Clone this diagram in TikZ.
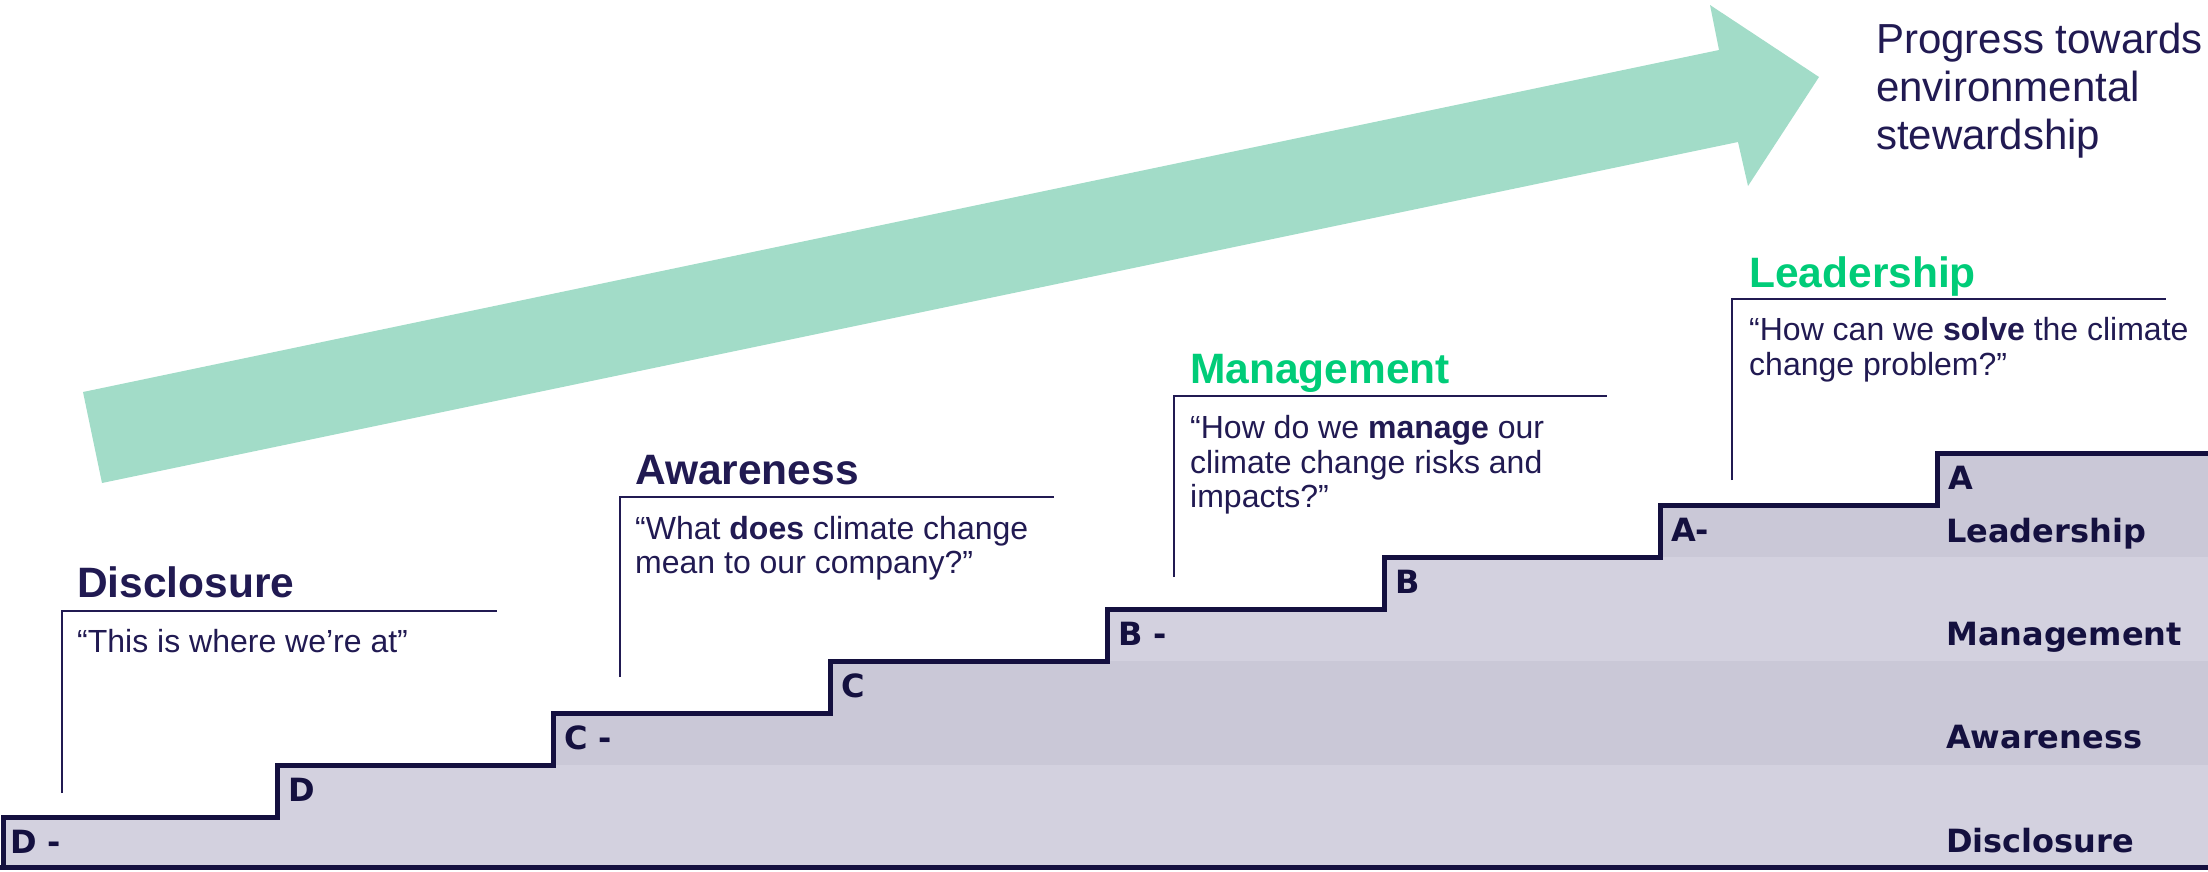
\documentclass[tikz,border=0pt]{standalone}
\usepackage{fontspec}
\setmainfont{Liberation Sans}
\newfontfamily\dinfont{DejaVu Sans}
\definecolor{navy}{RGB}{33,26,82}
\definecolor{outl}{RGB}{20,16,63}
\definecolor{grn}{RGB}{0,204,120}
\definecolor{arrowc}{RGB}{162,220,200}
\definecolor{bandd}{RGB}{202,200,215}
\definecolor{bandl}{RGB}{211,209,223}
\tikzset{
  ttl/.style={anchor=base west, inner sep=0pt, font=\fontsize{42.5}{50}\selectfont\bfseries},
  qt/.style={anchor=base west, inner sep=0pt, text=navy, font=\fontsize{32}{35}\selectfont},
  prog/.style={anchor=base west, inner sep=0pt, text=navy, font=\fontsize{42}{50}\selectfont},
  lvl/.style={anchor=base west, inner sep=0pt, text=outl, font=\dinfont\bfseries\fontsize{32}{36}\selectfont},
  brk/.style={draw=navy, line width=2.5pt},
  stair/.style={draw=outl, line width=5pt, miter limit=10}
}
\begin{document}
\begin{tikzpicture}[x=1pt,y=-1pt]
\useasboundingbox (0,0) rectangle (2208,871);
\clip (0,0) rectangle (2208,871);
% arrow
\fill[arrowc] (83,392) -- (1719,50) -- (1710,5) -- (1819,77) -- (1748,186) -- (1738,142) -- (102,483) -- cycle;
% bands clipped to stairs
\begin{scope}
\clip (3,867) -- (3,817) -- (277,817) -- (277,765) -- (553,765) -- (553,713) -- (830,713) -- (830,661) -- (1107,661) -- (1107,609) -- (1384,609) -- (1384,557) -- (1660,557) -- (1660,505) -- (1937,505) -- (1937,453) -- (2220,453) -- (2220,867) -- cycle;
\fill[bandd] (0,440) rectangle (2220,557);
\fill[bandl] (0,557) rectangle (2220,661);
\fill[bandd] (0,661) rectangle (2220,765);
\fill[bandl] (0,765) rectangle (2220,870);
\end{scope}
\draw[stair] (3,867) -- (3,817) -- (277,817) -- (277,765) -- (553,765) -- (553,713) -- (830,713) -- (830,661) -- (1107,661) -- (1107,609) -- (1384,609) -- (1384,557) -- (1660,557) -- (1660,505) -- (1937,505) -- (1937,453) -- (2220,453);
\draw[stair] (0,867) -- (2220,867);
% step labels
\node[lvl] (sDm) at (10,853) {D -};
\node[lvl] (sD) at (288,801) {D};
\node[lvl] (sCm) at (564,749) {C -};
\node[lvl] (sC) at (841,697) {C};
\node[lvl] (sBm) at (1118,645) {B -};
\node[lvl] (sB) at (1395,593) {B};
\node[lvl] (sAm) at (1671,541) {A-};
\node[lvl] (sA) at (1948,489) {A};
% band labels
\node[lvl] (bL) at (1946,542) {Leadership};
\node[lvl] (bM) at (1946,645) {Management};
\node[lvl] (bA) at (1946,748) {Awareness};
\node[lvl] (bD) at (1946,852) {Disclosure};
% brackets
\draw[brk] (62,793) -- (62,611) -- (497,611);
\draw[brk] (620,677) -- (620,497) -- (1054,497);
\draw[brk] (1174,577) -- (1174,396) -- (1607,396);
\draw[brk] (1732,480) -- (1732,299) -- (2166,299);
% titles and quotes
\node[ttl, text=navy] (tD) at (77,597) {Disclosure};
\node[qt] (qD1) at (77,652) {“This is where we’re at”};
\node[ttl, text=navy] (tA) at (635,484) {Awareness};
\node[qt] (qA1) at (635,539) {“What \textbf{does} climate change};
\node[qt] (qA2) at (635,573) {mean to our company?”};
\node[ttl, text=grn] (tM) at (1190,383) {Management};
\node[qt] (qM1) at (1190,438) {“How do we \textbf{manage} our};
\node[qt] (qM2) at (1190,473) {climate change risks and};
\node[qt] (qM3) at (1190,507) {impacts?”};
\node[ttl, text=grn] (tL) at (1749,287) {Leadership};
\node[qt] (qL1) at (1749,340) {“How can we \textbf{solve} the climate};
\node[qt] (qL2) at (1749,375) {change problem?”};
% progress text
\node[prog] (p1) at (1876,53) {Progress towards};
\node[prog] (p2) at (1876,101) {environmental};
\node[prog] (p3) at (1876,149) {stewardship};
\end{tikzpicture}
\end{document}
